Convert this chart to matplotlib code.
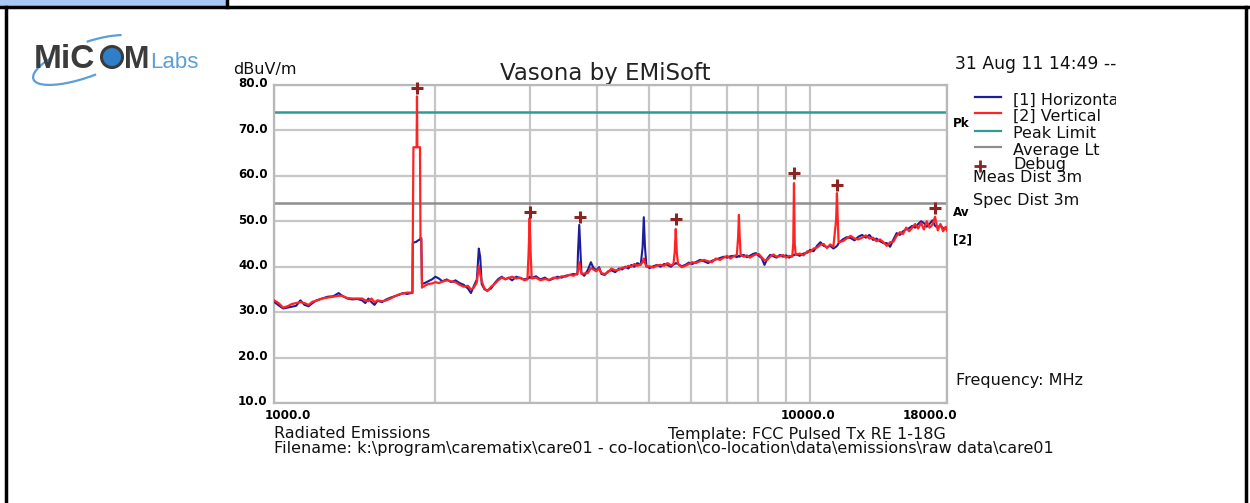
import matplotlib
matplotlib.use("Agg")
import matplotlib.pyplot as plt
import matplotlib.transforms as mtransforms
from matplotlib.patches import Rectangle, Arc, Circle
from matplotlib.ticker import NullFormatter

# measured scan, MHz / dBuV/m
freq_mhz = [1000, 1020, 1040, 1060, 1080, 1100, 1120, 1140, 1160, 1180, 1200, 1230, 1260, 1290,
            1320, 1340, 1370, 1400, 1430, 1460, 1480, 1500, 1520, 1540, 1560, 1590, 1620, 1650,
            1680, 1710, 1740, 1770, 1800, 1812, 1815, 1820, 1845, 1848, 1851, 1872, 1876, 1882,
            1888, 1910, 1940,
            1970, 2000, 2030, 2060, 2100, 2140, 2180, 2220, 2260, 2300, 2330, 2360, 2390, 2410,
            2425, 2440, 2470, 2500, 2540, 2580, 2620, 2660, 2700, 2740, 2780, 2830, 2880, 2930,
            2970, 2985, 2998, 3010, 3025, 3080, 3140, 3200, 3260, 3320, 3380, 3440, 3500, 3560,
            3620, 3680, 3690, 3710, 3730, 3745, 3790, 3850, 3900, 3940, 3990, 4040, 4080, 4140,
            4200, 4260, 4330, 4400, 4460, 4520, 4580, 4640, 4700, 4760, 4830, 4870, 4895, 4920,
            4950, 5020, 5100, 5180, 5260, 5340, 5420, 5500, 5560, 5590, 5615, 5640, 5670, 5760,
            5850, 5940, 6030, 6120, 6230, 6340, 6450, 6560, 6670, 6790, 6900, 7000, 7100, 7200,
            7300, 7340, 7365, 7390, 7420, 7520, 7620, 7720, 7820, 7920, 8020, 8120, 8220, 8320,
            8420, 8540, 8660, 8780, 8900, 9020, 9140, 9260, 9300, 9330, 9360, 9400, 9560, 9720,
            9880, 10000, 10150, 10300, 10450, 10600, 10750, 10900, 11050, 11180, 11220, 11260,
            11300, 11500, 11700, 11900, 12100, 12300, 12500, 12700, 12900, 13100, 13300, 13500,
            13700, 13900, 14100, 14300, 14500, 14700, 14900, 15100, 15300, 15500, 15700, 15900,
            16100, 16300, 16500, 16700, 16900, 17100, 17300, 17500, 17700, 17900, 18000]

horizontal = [32.3, 31.5, 30.8, 31.0, 31.2, 31.4, 32.6, 31.6, 31.3, 32.0, 32.6, 33.0, 33.4, 33.5,
              34.2, 33.6, 33.0, 32.8, 32.9, 32.6, 32.0, 33.0, 32.2, 31.6, 32.5, 32.2, 32.8, 33.2,
              33.5, 33.8, 34.2, 34.0, 34.2, 34.2, 45.2, 45.3, 45.5, 45.6, 45.7, 46.0, 46.3, 46.3,
              36.2, 36.4, 36.8,
              37.2, 37.8, 37.4, 36.8, 37.2, 36.6, 37.0, 36.4, 36.0, 35.2, 34.2, 35.8, 37.2, 44.0,
              42.0, 36.2, 35.0, 34.8, 35.2, 36.4, 37.3, 37.8, 37.2, 37.6, 37.0, 37.8, 37.5, 37.2,
              37.4, 37.5, 37.8, 37.6, 37.5, 37.9, 37.2, 37.6, 37.0, 37.4, 37.8, 37.6, 38.0, 38.2,
              38.4, 38.3, 43.2, 49.2, 43.2, 38.6, 38.0, 39.3, 41.0, 39.8, 39.2, 39.9, 38.4, 38.2,
              39.0, 39.2, 38.8, 39.6, 39.4, 40.0, 39.6, 40.4, 40.0, 40.8, 40.4, 44.3, 50.9, 44.3,
              40.2, 39.7, 40.1, 40.4, 40.0, 40.6, 40.4, 40.0, 40.5, 40.6, 40.8, 40.7, 40.6, 40.1,
              40.4, 40.9, 40.6, 41.0, 41.5, 41.2, 40.8, 41.3, 41.6, 41.9, 42.2, 42.0, 42.3, 42.4,
              42.1, 42.3, 42.4, 42.2, 42.4, 42.6, 42.1, 42.4, 42.8, 43.0, 42.4, 41.9, 40.4, 41.8,
              42.6, 42.3, 42.0, 42.6, 42.2, 42.5, 42.0, 42.4, 42.5, 42.6, 42.6, 42.8, 42.4, 42.9,
              43.1, 43.7, 43.4, 44.6, 45.4, 44.6, 44.3, 44.6, 44.0, 44.4, 44.6, 44.8,
              45.2, 46.0, 46.5, 46.3, 45.8, 46.6, 47.0, 46.4, 47.0, 45.9, 46.2, 45.6,
              45.2, 45.2, 44.4, 46.0, 47.4, 47.0, 47.8, 48.2, 48.5, 49.0, 48.6, 49.4,
              50.0, 49.6, 48.8, 49.4, 50.2, 49.0, 48.6, 49.2, 48.4, 48.6, 48.0]

vertical = [32.6, 32.0, 31.0, 31.3, 31.8, 32.0, 32.2, 32.0, 31.6, 32.3, 32.5, 33.0, 33.2, 33.4,
            33.6, 33.6, 33.1, 33.0, 33.0, 33.0, 32.6, 32.4, 33.0, 32.2, 32.6, 32.4, 32.6, 33.0,
            33.5, 33.9, 34.1, 34.3, 34.3, 34.3, 45.2, 66.3, 66.3, 77.5, 66.3, 66.3, 46.3, 46.3,
            35.4, 35.8, 36.2,
            36.3, 36.6, 36.4, 36.7, 37.0, 36.8, 36.6, 36.0, 35.6, 35.8, 35.0, 35.4, 36.6, 40.2,
            38.4, 36.8, 35.2, 34.6, 35.6, 36.2, 37.0, 37.6, 37.3, 37.5, 37.8, 37.4, 37.6, 37.0,
            37.2, 43.2, 50.7, 43.2, 37.4, 37.6, 37.0, 37.3, 37.1, 37.6, 37.4, 37.9, 37.8, 38.2,
            38.0, 38.6, 39.0, 41.0, 39.5, 38.4, 38.5, 38.6, 39.7, 39.4, 39.0, 39.6, 38.6, 38.4,
            38.8, 39.6, 39.2, 39.3, 39.8, 39.8, 40.2, 40.0, 40.6, 40.2, 40.5, 41.0, 41.8, 40.8,
            40.0, 40.1, 39.8, 40.3, 40.4, 40.2, 40.8, 40.3, 40.6, 43.2, 48.3, 43.2, 40.6, 39.9,
            40.2, 40.6, 41.0, 40.8, 41.2, 41.5, 41.2, 41.0, 41.8, 41.5, 42.0, 42.4, 41.8, 42.3,
            42.6, 46.5, 51.4, 46.5, 42.6, 42.2, 42.5, 42.0, 42.4, 42.7, 42.8, 42.1, 41.4, 41.5,
            42.2, 42.7, 42.2, 42.3, 42.6, 42.0, 42.4, 42.2, 45.0, 58.4, 45.0, 42.6, 42.9, 42.5,
            43.4, 43.3, 44.0, 44.2, 44.8, 45.0, 44.1, 44.9, 44.4, 50.3, 56.2, 50.3,
            45.4, 45.6, 46.2, 46.8, 46.2, 46.0, 46.4, 46.9, 46.2, 46.4, 45.6, 46.0,
            45.4, 44.6, 45.4, 45.5, 46.8, 47.6, 47.2, 48.6, 47.8, 48.6, 49.4, 48.4,
            49.6, 48.2, 50.0, 48.6, 49.2, 51.0, 48.0, 49.4, 47.8, 48.8, 48.1]

debug_mhz = [1850, 3000, 3720, 5620, 9330, 11220, 17100]
debug_level = [79.3, 52.0, 50.9, 50.5, 60.6, 58.0, 52.9]

peak_limit = 74.0
average_limit = 54.0

grid_mhz = [2000, 3000, 4000, 5000, 6000, 7000, 8000, 9000]
y_ticks = [10, 20, 30, 40, 50, 60, 70, 80]

W, H = 1250, 503
fig = plt.figure(figsize=(W / 100, H / 100), dpi=100)

# full-figure overlay in pixel coordinates for the report furniture
ov = fig.add_axes([0, 0, 1, 1], zorder=0)
ov.set_xlim(0, W)
ov.set_ylim(H, 0)
ov.axis('off')

ov.add_patch(Rectangle((0, 0), 227, 7, facecolor='#a6c8f2', edgecolor='none'))
ov.plot([227, 227], [0, 7], color='black', lw=2.5)
ov.plot([0, W], [7, 7], color='black', lw=2.5)
ov.plot([5.5, 5.5], [7, H], color='black', lw=2.5)
ov.plot([1245.5, 1245.5], [7, H], color='black', lw=2.5)

# logo
ov.add_patch(Arc((86, 60), 112, 34, angle=-20, theta1=75, theta2=205,
                 color='#5a9fd8', lw=1.6))
ov.add_patch(Arc((86, 60), 112, 34, angle=-20, theta1=292, theta2=345,
                 color='#5a9fd8', lw=1.6))
ov.text(34, 68, 'MiC', fontsize=24, fontweight='bold', color='#3b3b3b',
        family='Liberation Sans', va='baseline')
ov.add_patch(Circle((112, 57), 10.5, facecolor='#2f7fc8', edgecolor='#3b3b3b', lw=2.2))
ov.text(124, 68, 'M', fontsize=22, fontweight='bold', color='#3b3b3b',
        family='Liberation Sans', va='baseline')
ov.text(150, 68, 'Labs', fontsize=16, color='#5a9fd8',
        family='Liberation Sans', va='baseline')

# main chart
ax = fig.add_axes([274 / W, 1 - 403 / H, (947 - 274) / W, (403 - 85) / H], zorder=1)
ax.set_xscale('log')
ax.set_xlim(1000, 18000)
ax.set_ylim(10, 80)

ax.set_xticks(grid_mhz, minor=True)
ax.xaxis.set_minor_formatter(NullFormatter())
ax.set_xticks([1000, 10000, 18000])
ax.set_xticklabels(['1000.0', '10000.0', '18000.0'])
ax.set_yticks(y_ticks)
ax.set_yticklabels(['%.1f' % v for v in y_ticks])
ax.grid(True, which='both', color='#c6c6c6', lw=1.6)
ax.set_axisbelow(True)
ax.tick_params(which='both', length=0)
ax.tick_params(axis='y', pad=4.5, labelsize=8.6)
ax.tick_params(axis='x', pad=4.5, labelsize=8.6)
for lab in ax.get_yticklabels() + ax.get_xticklabels():
    lab.set_fontweight('bold')
for lab in ax.get_yticklabels():
    lab.set_transform(lab.get_transform() + mtransforms.ScaledTranslation(0, 2 / 72, fig.dpi_scale_trans))
xl = ax.get_xticklabels()
xl[0].set_ha('left')
xl[0].set_transform(xl[0].get_transform() + mtransforms.ScaledTranslation(-9 / 100, 0, fig.dpi_scale_trans))
xl[1].set_transform(xl[1].get_transform() + mtransforms.ScaledTranslation(-2 / 100, 0, fig.dpi_scale_trans))
xl[2].set_ha('right')
xl[2].set_transform(xl[2].get_transform() + mtransforms.ScaledTranslation(10 / 100, 0, fig.dpi_scale_trans))
for sp in ax.spines.values():
    sp.set_color('#b8b8b8')
    sp.set_linewidth(1.6)

ax.axhline(peak_limit, color='#2c9c98', lw=1.8, zorder=2)
ax.axhline(average_limit, color='#8e8e8e', lw=1.8, zorder=2)
ax.plot(freq_mhz, horizontal, color='#1c1c9c', lw=1.5, zorder=3)
ax.plot(freq_mhz, vertical, color='#ff2424', lw=1.6, zorder=4)
ax.plot(debug_mhz, debug_level, linestyle='none', marker='+', color='#8c2424',
        markersize=9, markeredgewidth=2.2, zorder=5, clip_on=False)

# texts around the chart
ov.text(233, 69, 'dBuV/m', fontsize=11.5, va='center', ha='left', color='#111111')
ov.text(605, 73, 'Vasona by EMiSoft', fontsize=16.5, va='center', ha='center', color='#222222')
ov.text(955, 64, '31 Aug 11 14:49 --', fontsize=12.3, va='center', ha='left', color='#111111')

ov.text(953, 123, 'Pk', fontsize=8.6, fontweight='bold', va='center', ha='left')
ov.text(953, 213, 'Av', fontsize=8.6, fontweight='bold', va='center', ha='left')
ov.text(953, 240, '[2]', fontsize=8.6, fontweight='bold', va='center', ha='left')

legend_entries = [('[1] Horizontal', '#1c1c9c', 97),
                  ('[2] Vertical', '#ff2424', 113),
                  ('Peak Limit', '#2c9c98', 131),
                  ('Average Lt', '#8e8e8e', 147)]
clip = mtransforms.TransformedBbox(mtransforms.Bbox([[0, 0], [1116, H]]), ov.transData)
for label, col, yy in legend_entries:
    ov.plot([975, 1001], [yy, yy], color=col, lw=1.6)
    t = ov.text(1013, yy + 3, label, fontsize=11.5, va='center', ha='left', color='#111111')
    t.set_clip_box(clip)
    t.set_clip_on(True)
ov.plot([980], [166], marker='+', color='#8c2424', markersize=8, markeredgewidth=2)
ov.text(1013, 165, 'Debug', fontsize=11.5, va='center', ha='left', color='#111111')
ov.text(973, 178, 'Meas Dist 3m', fontsize=11.5, va='center', ha='left', color='#111111')
ov.text(973, 200, 'Spec Dist 3m', fontsize=11.5, va='center', ha='left', color='#111111')
ov.text(956, 381, 'Frequency: MHz', fontsize=11.5, va='center', ha='left', color='#111111')

ov.text(274, 434, 'Radiated Emissions', fontsize=11.5, va='center', ha='left', color='#111111')
ov.text(668, 434, 'Template: FCC Pulsed Tx RE 1-18G', fontsize=11.5, va='center', ha='left',
        color='#111111')
ov.text(274, 448, 'Filename: k:\\program\\carematix\\care01 - co-location\\co-location\\data'
        '\\emissions\\raw data\\care01', fontsize=11.5, va='center', ha='left', color='#111111')

fig.savefig('out.png', dpi=100, facecolor='white')
